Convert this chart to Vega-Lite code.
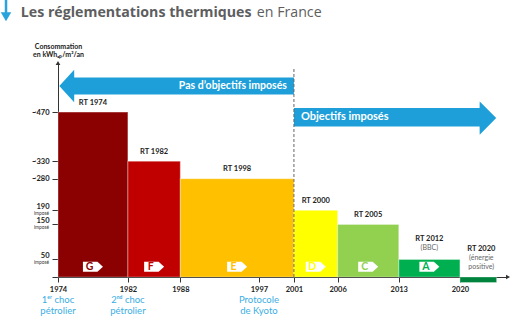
{
  "$schema": "https://vega.github.io/schema/vega-lite/v6.json",
  "width": 450,
  "height": 214,
  "autosize": {"type": "none"},
  "padding": {"left": 58, "top": 63, "right": 17, "bottom": 51},
  "background": "white",
  "config": {"view": {"stroke": null}, "font": "Lato", "text": {"font": "Lato"}, "axis": {"labelOverlap": false, "grid": false, "title": null}, "axisY": {"labelOverlap": false}},
  "datasets": {
    "rt": [
      {"rt": "RT 1974", "start": 1974, "end": 1982, "value": 470, "cls": "G"},
      {"rt": "RT 1982", "start": 1982, "end": 1988, "value": 330, "cls": "F"},
      {"rt": "RT 1998", "start": 1988, "end": 2001, "value": 280, "cls": "E"},
      {"rt": "RT 2000", "start": 2001, "end": 2006, "value": 190, "cls": "D"},
      {"rt": "RT 2005", "start": 2006, "end": 2013, "value": 150, "cls": "C"},
      {"rt": "RT 2012", "start": 2013, "end": 2020, "value": 50, "cls": "A", "sub": "(BBC)"},
      {"rt": "RT 2020", "start": 2020, "end": 2024.2, "value": -16, "sub": "(énergie\npositive)"}
    ],
    "arrows": [
      {"arrow": "Pas d’objectifs imposés", "yr": 1974.15, "lo": 544.5, "hi": 544.5},
      {"arrow": "Pas d’objectifs imposés", "yr": 1975.85, "lo": 498, "hi": 591},
      {"arrow": "Pas d’objectifs imposés", "yr": 1975.86, "lo": 520, "hi": 569},
      {"arrow": "Pas d’objectifs imposés", "yr": 2001, "lo": 520, "hi": 569},
      {"arrow": "Objectifs imposés", "yr": 2001, "lo": 429, "hi": 482},
      {"arrow": "Objectifs imposés", "yr": 2022.25, "lo": 429, "hi": 482},
      {"arrow": "Objectifs imposés", "yr": 2022.26, "lo": 405.5, "hi": 500.5},
      {"arrow": "Objectifs imposés", "yr": 2024.15, "lo": 453, "hi": 453}
    ],
    "milestones": [
      {"yr": 1974, "label": "1ᵉʳ choc\npétrolier"},
      {"yr": 1982, "label": "2ⁿᵈ choc\npétrolier"},
      {"yr": 1997, "label": "Protocole\nde Kyoto"}
    ],
    "imposed": [{"v": 190}, {"v": 150}, {"v": 50}]
  },
  "layer": [
    {
      "data": {"name": "rt"},
      "mark": {"type": "bar", "stroke": "white", "strokeOpacity": 0.3, "strokeWidth": 1.2},
      "encoding": {
        "x": {
          "field": "start", "type": "quantitative",
          "scale": {"domain": [1974, 2025.5], "nice": false, "zero": false},
          "axis": {
            "values": [1974, 1982, 1988, 1997, 2001, 2006, 2013, 2020],
            "tickCount": 30,
            "format": "d", "title": null, "grid": false,
            "tickSize": 5, "tickColor": "#333", "domainColor": "#333",
            "labelFontSize": 7.5, "labelFontWeight": "bold", "labelColor": "#222",
            "labelPadding": 3, "labelFlush": false, "labelOverlap": false
          }
        },
        "x2": {"field": "end"},
        "y": {
          "field": "value", "type": "quantitative",
          "scale": {"domain": [0, 610], "nice": false, "zero": false},
          "axis": {
            "values": [0, 50, 150, 190, 280, 330, 470],
            "tickCount": 30,
            "title": ["Consommation", "en kWhₑₚ/m²/an"],
            "titleAngle": 0, "titleX": 0, "titleY": -21,
            "titleAlign": "center", "titleBaseline": "top",
            "titleFontSize": 7, "titleFontWeight": "bold", "titleLineHeight": 8.5, "titleColor": "#222",
            "labelExpr": "datum.value == 0 ? '' : (datum.value >= 280 ? '~' + datum.value : '' + datum.value)",
            "labelBaseline": {"condition": {"test": "datum.value < 200", "value": "bottom"}, "value": "middle"},
            "labelFontSize": 7.5, "labelFontWeight": "bold", "labelColor": "#222",
            "tickSize": 6, "tickColor": "#333", "domainColor": "#333",
            "labelPadding": 3, "grid": false, "labelFlush": false, "labelOverlap": false
          }
        },
        "y2": {"datum": 0},
        "color": {
          "field": "rt", "type": "nominal",
          "scale": {
            "domain": ["RT 1974", "RT 1982", "RT 1998", "RT 2000", "RT 2005", "RT 2012", "RT 2020"],
            "range": ["#8b0000", "#c00000", "#ffc000", "#ffff00", "#92d050", "#00b050", "#00843d"]
          },
          "legend": null
        }
      }
    },
    {
      "data": {"name": "arrows"},
      "mark": {"type": "area", "color": "#1e9fd9", "interpolate": "linear", "opacity": 1},
      "encoding": {
        "x": {"field": "yr", "type": "quantitative"},
        "y": {"field": "hi", "type": "quantitative"},
        "y2": {"field": "lo"},
        "detail": {"field": "arrow"}
      }
    },
    {
      "data": {"values": [{}]},
      "mark": {"type": "rule", "strokeDash": [3, 2], "color": "#666", "strokeWidth": 1},
      "encoding": {"x": {"datum": 2001}, "y": {"datum": 0}, "y2": {"datum": 597}}
    },
    {
      "data": {"name": "rt"},
      "transform": [{"filter": "isValid(datum.cls)"}, {"fold": ["start", "end"], "as": ["k", "yr"]}],
      "mark": {"type": "point", "shape": "M-1,-0.5L0.45,-0.5L1,0L0.45,0.5L-1,0.5Z", "filled": true, "fill": "white", "opacity": 1, "size": 400, "strokeWidth": 0},
      "encoding": {
        "x": {"field": "yr", "aggregate": "mean", "type": "quantitative"},
        "y": {"datum": 29},
        "detail": {"field": "rt"}
      }
    },
    {
      "data": {"name": "rt"},
      "transform": [{"filter": "isValid(datum.cls)"}, {"fold": ["start", "end"], "as": ["k", "yr"]}],
      "mark": {"type": "text", "fontSize": 10.5, "fontWeight": "bold", "dx": -3.5, "baseline": "middle", "align": "center"},
      "encoding": {
        "x": {"field": "yr", "aggregate": "mean", "type": "quantitative"},
        "y": {"datum": 29},
        "text": {"field": "cls"},
        "color": {"field": "rt", "type": "nominal", "legend": null}
      }
    },
    {
      "data": {"name": "rt"},
      "transform": [{"filter": "!isValid(datum.sub)"}, {"fold": ["start", "end"], "as": ["k", "yr"]}],
      "mark": {"type": "text", "fontSize": 7.5, "fontWeight": "bold", "color": "#222", "dy": -9.5, "baseline": "middle"},
      "encoding": {
        "x": {"field": "yr", "aggregate": "mean", "type": "quantitative"},
        "y": {"field": "value", "type": "quantitative"},
        "text": {"field": "rt"}
      }
    },
    {
      "data": {"name": "rt"},
      "transform": [{"filter": "datum.rt == 'RT 2012'"}, {"fold": ["start", "end"], "as": ["k", "yr"]}],
      "mark": {"type": "text", "fontSize": 7.5, "fontWeight": "bold", "color": "#222", "dy": -20.5, "baseline": "middle"},
      "encoding": {
        "x": {"field": "yr", "aggregate": "mean", "type": "quantitative"},
        "y": {"field": "value", "type": "quantitative"},
        "text": {"field": "rt"}
      }
    },
    {
      "data": {"name": "rt"},
      "transform": [{"filter": "datum.rt == 'RT 2012'"}, {"fold": ["start", "end"], "as": ["k", "yr"]}],
      "mark": {"type": "text", "fontSize": 7, "color": "#666", "dy": -15, "baseline": "top", "lineBreak": "\n", "lineHeight": 9},
      "encoding": {
        "x": {"field": "yr", "aggregate": "mean", "type": "quantitative"},
        "y": {"field": "value", "type": "quantitative"},
        "text": {"field": "sub"}
      }
    },
    {
      "data": {"name": "rt"},
      "transform": [{"filter": "datum.rt == 'RT 2020'"}, {"fold": ["start", "end"], "as": ["k", "yr"]}],
      "mark": {"type": "text", "fontSize": 7.5, "fontWeight": "bold", "color": "#222", "dx": 3, "dy": -28, "baseline": "middle"},
      "encoding": {
        "x": {"field": "yr", "aggregate": "mean", "type": "quantitative"},
        "y": {"datum": 0},
        "text": {"field": "rt"}
      }
    },
    {
      "data": {"name": "rt"},
      "transform": [{"filter": "datum.rt == 'RT 2020'"}, {"fold": ["start", "end"], "as": ["k", "yr"]}],
      "mark": {"type": "text", "fontSize": 7, "color": "#666", "dx": 3, "dy": -23.5, "baseline": "top", "lineBreak": "\n", "lineHeight": 9},
      "encoding": {
        "x": {"field": "yr", "aggregate": "mean", "type": "quantitative"},
        "y": {"datum": 0},
        "text": {"field": "sub"}
      }
    },
    {
      "data": {"values": [{}]},
      "mark": {"type": "text", "fontSize": 10.5, "fontWeight": "bold", "color": "white", "align": "right", "baseline": "middle", "dx": -7},
      "encoding": {"x": {"datum": 2001}, "y": {"datum": 545}, "text": {"value": "Pas d’objectifs imposés"}}
    },
    {
      "data": {"values": [{}]},
      "mark": {"type": "text", "fontSize": 11, "fontWeight": "bold", "color": "white", "align": "left", "baseline": "middle", "dx": 7},
      "encoding": {"x": {"datum": 2001}, "y": {"datum": 455}, "text": {"value": "Objectifs imposés"}}
    },
    {
      "data": {"values": [{}]},
      "mark": {"type": "point", "shape": "triangle-right", "filled": true, "color": "#333", "size": 22, "opacity": 1},
      "encoding": {"x": {"datum": 2025.5}, "y": {"datum": 0}}
    },
    {
      "data": {"values": [{}]},
      "mark": {"type": "point", "shape": "triangle-up", "filled": true, "color": "#333", "size": 22, "opacity": 1},
      "encoding": {"x": {"datum": 1974}, "y": {"datum": 610}}
    },
    {
      "data": {"name": "imposed"},
      "mark": {"type": "text", "fontSize": 4.8, "color": "#333", "align": "right", "baseline": "middle", "dx": -9, "dy": 4},
      "encoding": {"x": {"datum": 1974}, "y": {"field": "v", "type": "quantitative"}, "text": {"value": "imposé"}}
    },
    {
      "data": {"name": "milestones"},
      "mark": {"type": "text", "fontSize": 9.5, "color": "#3aaee3", "align": "center", "baseline": "top", "lineBreak": "\n", "lineHeight": 11},
      "encoding": {"x": {"field": "yr", "type": "quantitative"}, "y": {"datum": -51}, "text": {"field": "label"}}
    },
    {
      "data": {"values": [{}]},
      "mark": {"type": "rule", "color": "#29a3dc", "strokeWidth": 2.5},
      "encoding": {"x": {"datum": 1968.05}, "y": {"datum": 790}, "y2": {"datum": 748}}
    },
    {
      "data": {"values": [{}]},
      "mark": {"type": "point", "shape": "triangle-down", "filled": true, "color": "#29a3dc", "size": 110, "opacity": 1},
      "encoding": {"x": {"datum": 1968.05}, "y": {"datum": 742}}
    },
    {
      "data": {"values": [{}]},
      "mark": {"type": "text", "font": "Open Sans", "fontSize": 14.2, "fontWeight": "bold", "color": "#5d5e60", "align": "left", "baseline": "middle"},
      "encoding": {"x": {"datum": 1969.74}, "y": {"datum": 753}, "text": {"value": "Les réglementations thermiques"}}
    },
    {
      "data": {"values": [{}]},
      "mark": {"type": "text", "font": "Open Sans", "fontSize": 14.2, "color": "#5d5e60", "align": "left", "baseline": "middle"},
      "encoding": {"x": {"datum": 1996.75}, "y": {"datum": 753}, "text": {"value": "en France"}}
    }
  ]
}
